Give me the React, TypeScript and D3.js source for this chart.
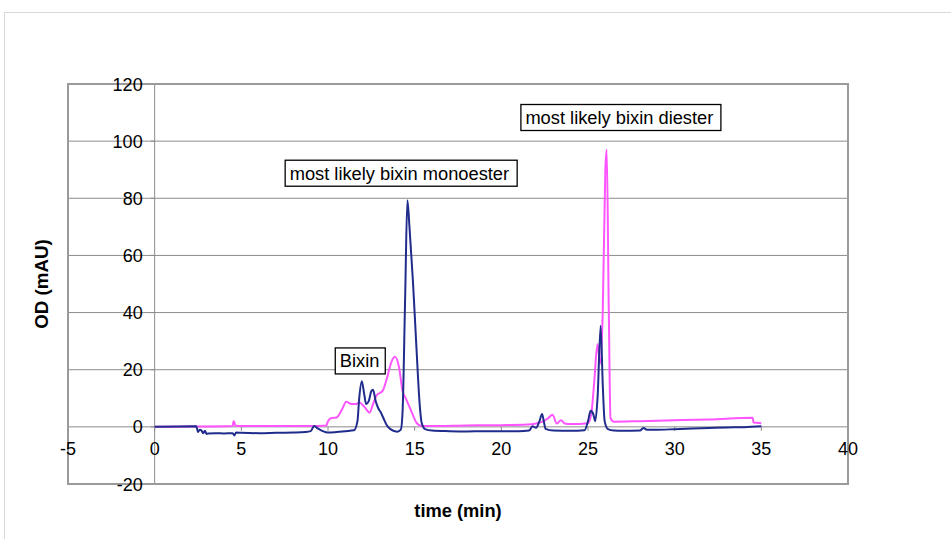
import React from "react";
import * as d3 from "d3";

// ---- data ----
const blueTime = [0, 2.4, 2.5, 2.6, 2.7, 2.8, 2.9, 3.0, 3.1, 3.5, 4.0, 4.5, 4.6, 4.7, 5.0, 6.0, 7.0, 8.0, 8.7, 9.0, 9.2, 9.4, 9.7, 10.0, 10.5, 11.0, 11.5, 11.7, 11.8, 11.95, 12.1, 12.2, 12.35, 12.5, 12.6, 12.75, 12.9, 13.05, 13.2, 13.4, 13.6, 14.0, 14.2, 14.3, 14.45, 14.58, 14.7, 14.9, 15.1, 15.3, 15.4, 15.6, 16.0, 17, 18, 19, 20, 21, 21.6, 21.8, 22.0, 22.2, 22.35, 22.45, 22.55, 23, 24, 24.8, 25.0, 25.15, 25.3, 25.42, 25.55, 25.73, 25.85, 25.96, 26.15, 26.5, 27, 28, 28.2, 28.4, 29, 30, 31, 32, 33, 34, 35];
const blueOD = [0, 0.2, -1.8, -1.0, -1.3, -2.2, -1.4, -2.5, -2.3, -2.2, -2.3, -2.2, -3.0, -2.0, -2.1, -2.2, -2.1, -2.0, -1.8, -1.5, 0.3, -0.5, -1.5, -2.0, -1.8, -1.5, -1.2, 2, 10, 16, 11, 8, 9, 12.5, 13, 9, 6.5, 5, 3, 0.5, -0.8, -1.7, -1, 5, 45, 79.3, 70, 51, 28, 7, 1.5, -0.8, -1.3, -1.5, -1.6, -1.5, -1.5, -1.5, -1.3, 0.2, -0.3, 2, 4.5, 2, -0.7, -1.3, -1.4, -1.2, 2, 5.6, 4.5, 2, 10, 35.4, 15, 2, -0.8, -1.3, -1.4, -1.3, -0.4, -1.0, -1.0, -0.8, -0.6, -0.4, -0.2, -0.1, 0.2];

const pinkTime = [0, 2, 4.5, 4.55, 4.6, 4.65, 5, 7, 9, 9.9, 10.0, 10.2, 10.5, 10.8, 11.05, 11.35, 11.6, 11.8, 12.1, 12.4, 12.6, 12.8, 13.15, 13.4, 13.65, 13.85, 14.1, 14.3, 14.5, 14.8, 15.1, 15.4, 16, 18, 20, 21.5, 22, 22.4, 22.7, 22.95, 23.2, 23.45, 23.65, 24, 25, 25.2, 25.35, 25.55, 25.7, 25.85, 26.0, 26.08, 26.2, 26.3, 26.5, 28, 30, 32, 34.5, 34.55, 35];
const pinkOD = [0, 0.1, 0.3, 2.0, 1.6, 0.5, 0.3, 0.3, 0.3, 0.5, 2, 3.1, 3.3, 6, 8.8, 8, 8, 8.5, 7, 5, 8, 11, 12.6, 17, 22.6, 24.5, 20.8, 12.6, 9.8, 5.6, 1.5, 0.3, 0.3, 0.5, 0.6, 0.8, 1.2, 1.9, 3, 4.2, 1.2, 2.3, 1.2, 1.0, 1.3, 5, 15, 29, 22, 40, 90, 97, 40, 3, 1.8, 2.0, 2.3, 2.6, 3.2, 1.5, 1.3];

const xTicks = [-5, 0, 5, 10, 15, 20, 25, 30, 35, 40];
const yTicks = [-20, 0, 20, 40, 60, 80, 100, 120];

const annotationLabels = ["Bixin", "most likely bixin monoester", "most likely bixin diester"];
const annotationX = [10.39, 7.5, 21.1];
const annotationY = [27.8, 93.5, 113.0];

const xLabel = "time (min)";
const yLabel = "OD (mAU)";

// ---- layout ----
const W = 951;
const H = 539;
const left = 68, right = 848, top = 84, bottom = 484;
const FONT = "'Liberation Sans', Arial, Helvetica, sans-serif";
const BLUE = "#1f2c8c";
const PINK = "#ff55ff";
const GRID = "#8c8c8c";

export default function App() {
  const x = d3.scaleLinear().domain([-5, 40]).range([left, right]);
  const y = d3.scaleLinear().domain([-20, 120]).range([bottom, top]);

  const line = d3
    .line<[number, number]>()
    .x((d) => x(d[0]))
    .y((d) => y(d[1]))
    .curve(d3.curveMonotoneX);

  const bluePts: [number, number][] = blueTime.map((t, i) => [t, blueOD[i]]);
  const pinkPts: [number, number][] = pinkTime.map((t, i) => [t, pinkOD[i]]);

  const boxW = [50, 232, 200];
  const boxH = 26;

  return (
    <svg
      width={W}
      height={H}
      style={{ position: "fixed", left: 0, top: 0, background: "#fff" }}
      fontFamily={FONT}
    >
      {/* outer chart frame */}
      <rect x={4.5} y={12.5} width={W + 20} height={H + 20} fill="none" stroke="#d9d9d9" strokeWidth={1} />

      {/* grid lines */}
      {yTicks.map((v) => (
        <line key={"g" + v} x1={left} x2={right} y1={y(v)} y2={y(v)} stroke={GRID} strokeWidth={1} />
      ))}

      {/* y axis at x=0 */}
      <line x1={x(0)} x2={x(0)} y1={top} y2={bottom} stroke={GRID} strokeWidth={1} />
      {yTicks.map((v) => (
        <line key={"yt" + v} x1={x(0) - 4} x2={x(0)} y1={y(v)} y2={y(v)} stroke={GRID} strokeWidth={1} />
      ))}
      {/* x axis ticks at y=0 */}
      {xTicks.map((v) => (
        <line key={"xt" + v} x1={x(v)} x2={x(v)} y1={y(0)} y2={y(0) + 4} stroke={GRID} strokeWidth={1} />
      ))}

      {/* plot border */}
      <rect x={left} y={top} width={right - left} height={bottom - top} fill="none" stroke="#9a9a9a" strokeWidth={2} />

      {/* series */}
      <path d={line(pinkPts) || ""} fill="none" stroke={PINK} strokeWidth={2} strokeLinejoin="round" />
      <path d={line(bluePts) || ""} fill="none" stroke={BLUE} strokeWidth={2} strokeLinejoin="round" />

      {/* y tick labels */}
      {yTicks.map((v) => (
        <text key={"yl" + v} x={x(0) - 12} y={y(v) + 6.5} textAnchor="end" fontSize={18} fill="#000">
          {v}
        </text>
      ))}
      {/* x tick labels */}
      {xTicks.map((v) => (
        <text key={"xl" + v} x={x(v)} y={y(0) + 28} textAnchor="middle" fontSize={18} fill="#000">
          {v}
        </text>
      ))}

      {/* axis titles */}
      <text x={(left + right) / 2 + 0} y={517} textAnchor="middle" fontSize={18.3} fontWeight="bold">
        {xLabel}
      </text>
      <text
        transform={`translate(${48},${(top + bottom) / 2}) rotate(-90)`}
        textAnchor="middle"
        fontSize={18.8}
        fontWeight="bold"
      >
        {yLabel}
      </text>

      {/* annotations */}
      {annotationLabels.map((lab, i) => {
        const bx = x(annotationX[i]);
        const by = y(annotationY[i]);
        return (
          <g key={"a" + i}>
            <rect x={bx + 0.5} y={by + 0.5} width={boxW[i]} height={boxH} fill="#fff" stroke="#000" strokeWidth={1.3} />
            <text x={bx + 5} y={by + 20} fontSize={18.3} fill="#000">
              {lab}
            </text>
          </g>
        );
      })}
    </svg>
  );
}
